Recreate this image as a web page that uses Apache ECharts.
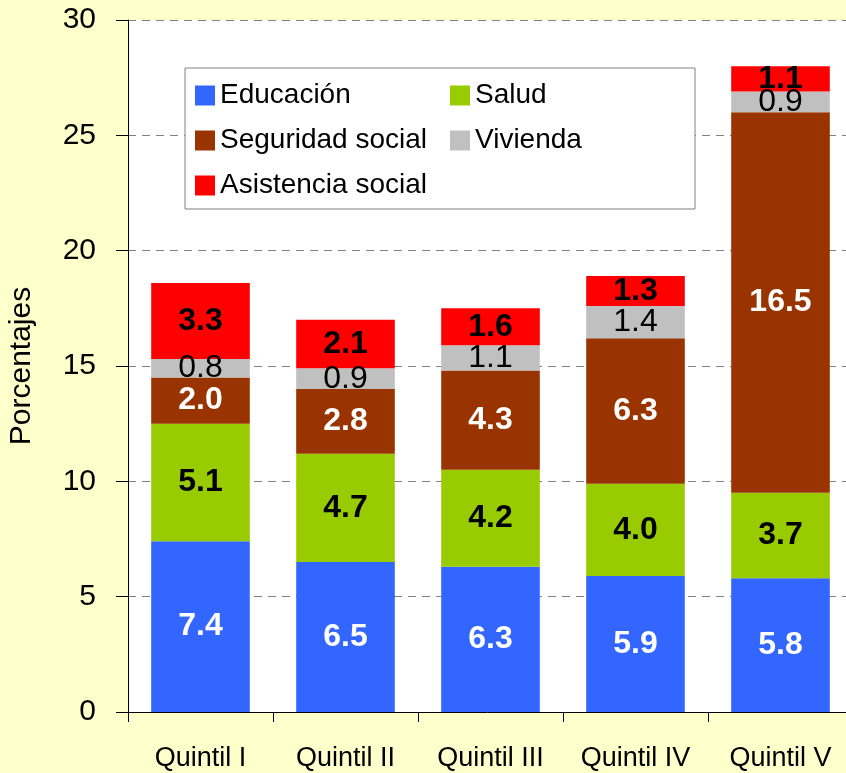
<!DOCTYPE html>
<html>
<head>
<meta charset="utf-8">
<script src="https://cdn.jsdelivr.net/npm/echarts@6/dist/echarts.min.js"></script>
<style>
  html, body { margin: 0; padding: 0; background: #ffffcc; }
  #chart { width: 846px; height: 773px; }
</style>
</head>
<body>
<div id="chart"></div>
<script>
// datos por quintil
const quintiles = ["Quintil I", "Quintil II", "Quintil III", "Quintil IV", "Quintil V"];
const educacion = [7.4, 6.5, 6.3, 5.9, 5.8];
const salud = [5.1, 4.7, 4.2, 4.0, 3.7];
const seguridad = [2.0, 2.8, 4.3, 6.3, 16.5];
const vivienda = [0.8, 0.9, 1.1, 1.4, 0.9];
const asistencia = [3.3, 2.1, 1.6, 1.3, 1.1];

const font = "'Liberation Sans', Arial, sans-serif";

function serie(name, data, color, labelColor, bold) {
  return {
    name: name,
    type: "bar",
    stack: "total",
    data: data,
    barCategoryGap: "32%",
    itemStyle: { color: color },
    label: {
      show: true,
      position: "inside",
      color: labelColor,
      fontFamily: font,
      fontSize: 32,
      fontWeight: bold ? "bold" : "normal",
      formatter: (p) => p.value.toFixed(1),
    },
  };
}

const chart = echarts.init(document.getElementById("chart"));
chart.setOption({
  backgroundColor: "#ffffcc",
  animation: false,
  textStyle: { fontFamily: font },
  grid: {
    left: 128,
    right: -7,
    top: 20,
    bottom: 61,
    outerBoundsMode: "none",
    show: true,
    backgroundColor: "#ffffff",
    borderWidth: 0,
  },
  legend: {
    left: 185,
    top: 68,
    width: 502,
    padding: [10, 0, 6, 10],
    itemGap: 10,
    itemWidth: 20,
    itemHeight: 20,
    icon: "rect",
    backgroundColor: "#ffffff",
    borderColor: "#808080",
    borderWidth: 1,
    borderRadius: 0,
    textStyle: {
      fontFamily: font,
      fontSize: 28,
      color: "#000",
      width: 220,
      lineHeight: 35,
    },
    data: ["Educación", "Salud", "Seguridad social", "Vivienda", "Asistencia social"],
  },
  xAxis: {
    type: "category",
    data: quintiles,
    axisLine: { lineStyle: { color: "#000", width: 1 } },
    axisTick: { show: true, length: 10, lineStyle: { color: "#000" } },
    axisLabel: { color: "#000", fontSize: 27, margin: 33, fontFamily: font },
  },
  yAxis: {
    type: "value",
    min: 0,
    max: 30,
    interval: 5,
    name: "Porcentajes",
    nameLocation: "middle",
    nameGap: 91,
    nameTextStyle: { color: "#000", fontSize: 30, fontFamily: font },
    axisLine: { show: true, lineStyle: { color: "#000", width: 1 } },
    axisTick: { show: true, length: 12, lineStyle: { color: "#000" } },
    axisLabel: { color: "#000", fontSize: 30, margin: 32, fontFamily: font },
    splitLine: { show: true, lineStyle: { color: "#808080", type: [8, 6], width: 1 } },
  },
  series: [
    serie("Educación", educacion, "#3366ff", "#ffffff", true),
    serie("Salud", salud, "#99cc00", "#000000", true),
    serie("Seguridad social", seguridad, "#993300", "#ffffff", true),
    serie("Vivienda", vivienda, "#c0c0c0", "#000000", false),
    serie("Asistencia social", asistencia, "#ff0000", "#000000", true),
  ],
});
</script>
</body>
</html>
